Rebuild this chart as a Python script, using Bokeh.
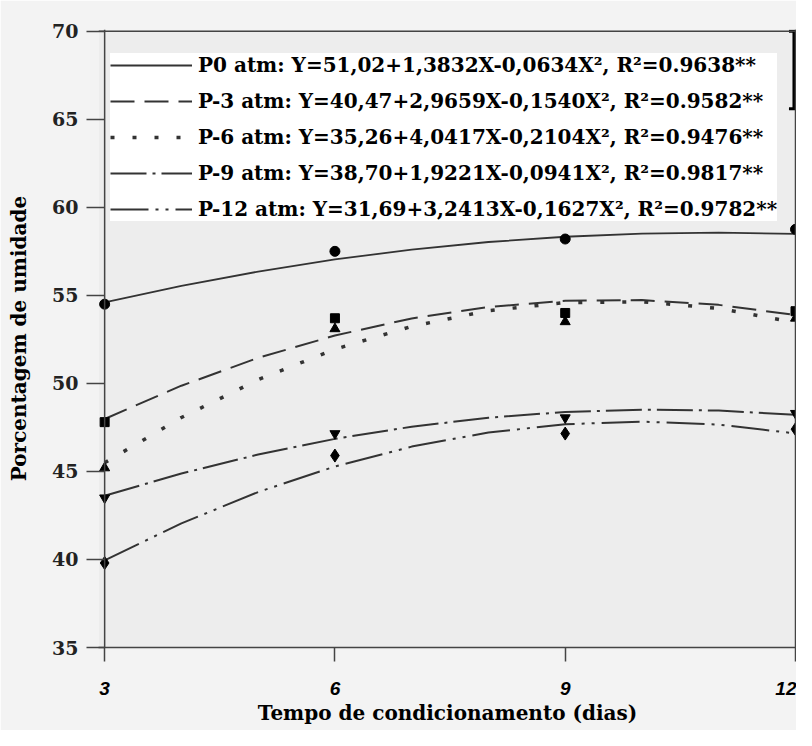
from bokeh.plotting import figure
from bokeh.models import Legend, LegendItem, FixedTicker, Span, Range1d
from bokeh.embed import file_html
from bokeh.resources import INLINE

# ---- data ----
days = [3, 6, 9, 12]
x_tick_labels = {3: "3", 6: "6", 9: "9", 12: "12"}
y_ticks = [35, 40, 45, 50, 55, 60, 65, 70]

obs_p0 = [54.5, 57.5, 58.2, 58.75]
obs_p3 = [47.8, 53.7, 54.0, 54.1]
obs_p6 = [45.2, 53.1, 53.5, 53.7]
obs_p9 = [43.5, 47.15, 48.05, 48.3]
obs_p12 = [39.8, 45.9, 47.15, 47.4]

curve_days = [3, 4, 5, 6, 7, 8, 9, 10, 11, 12]
fit_p0 = [54.60, 55.54, 56.35, 57.04, 57.60, 58.03, 58.33, 58.51, 58.56, 58.49]
fit_p3 = [47.98, 49.87, 51.45, 52.72, 53.69, 54.34, 54.69, 54.73, 54.46, 53.88]
fit_p6 = [45.49, 48.06, 50.21, 51.94, 53.24, 54.13, 54.59, 54.64, 54.26, 53.46]
fit_p9 = [43.62, 44.88, 45.96, 46.85, 47.54, 48.05, 48.38, 48.51, 48.46, 48.21]
fit_p12 = [39.95, 42.05, 43.83, 45.28, 46.41, 47.21, 47.68, 47.83, 47.66, 47.16]

legend_labels = [
    "P0 atm: Y=51,02+1,3832X-0,0634X\u00b2, R\u00b2=0.9638**",
    "P-3 atm: Y=40,47+2,9659X-0,1540X\u00b2, R\u00b2=0.9582**",
    "P-6 atm: Y=35,26+4,0417X-0,2104X\u00b2, R\u00b2=0.9476**",
    "P-9 atm: Y=38,70+1,9221X-0,0941X\u00b2, R\u00b2=0.9817**",
    "P-12 atm: Y=31,69+3,2413X-0,1627X\u00b2, R\u00b2=0.9782**",
]

bar_day = [11.98]
bar_low = [65.6]
bar_high = [70.0]

SERIF = "DejaVu Serif"

p = figure(width=796, height=730, output_backend="svg", toolbar_location=None,
           x_range=Range1d(2.92, 12.013), y_range=Range1d(35, 70.1),
           min_border_left=98, min_border_right=0, min_border_top=29, min_border_bottom=83,
           background_fill_color="#ededed", border_fill_color="#f3f3f3")
p.outline_line_color = None
p.xgrid.visible = False
p.ygrid.visible = False

# axes
p.xaxis.ticker = FixedTicker(ticks=days)
p.xaxis.major_label_overrides = x_tick_labels
p.xaxis.minor_tick_line_color = None
p.xaxis.major_tick_out = 14
p.xaxis.major_tick_in = 0
p.xaxis.major_label_standoff = 20
p.xaxis.major_label_text_font = "Liberation Sans"
p.xaxis.major_label_text_font_style = "bold italic"
p.xaxis.major_label_text_font_size = "19px"
p.xaxis.major_label_text_color = "black"
p.xaxis.axis_line_color = "#444444"
p.xaxis.axis_line_width = 1.5
p.xaxis.major_tick_line_color = "#444444"
p.xaxis.major_tick_line_width = 1.5
p.xaxis.axis_label = "Tempo de condicionamento (dias)"
p.xaxis.axis_label_text_font = SERIF
p.xaxis.axis_label_text_font_style = "bold"
p.xaxis.axis_label_text_font_size = "20px"
p.xaxis.axis_label_text_color = "black"
p.xaxis.axis_label_standoff = 3

p.yaxis.ticker = FixedTicker(ticks=y_ticks)
p.yaxis.minor_tick_line_color = None
p.yaxis.major_tick_out = 12
p.yaxis.major_tick_in = 6
p.yaxis.major_label_standoff = 8
p.yaxis.major_label_text_font = SERIF
p.yaxis.major_label_text_font_style = "bold"
p.yaxis.major_label_text_font_size = "19px"
p.yaxis.major_label_text_color = "#222222"
p.yaxis.axis_line_color = None
p.yaxis.major_tick_line_color = "#444444"
p.yaxis.major_tick_line_width = 1.5
p.yaxis.axis_label = "Porcentagem de umidade"
p.yaxis.axis_label_text_font = SERIF
p.yaxis.axis_label_text_font_style = "bold"
p.yaxis.axis_label_text_font_size = "20px"
p.yaxis.axis_label_text_color = "black"
p.yaxis.axis_label_standoff = 18

# frame lines
p.add_layout(Span(location=days[0], dimension="height", line_color="#444444", line_width=1.5))
p.add_layout(Span(location=days[-1], dimension="height", line_color="#444444", line_width=1.5))
p.add_layout(Span(location=y_ticks[-1], dimension="width", line_color="#444444", line_width=1.5))

LC = "#333333"
r0 = p.line(curve_days, fit_p0, line_color=LC, line_width=1.8)
r3 = p.line(curve_days, fit_p3, line_color=LC, line_width=2, line_dash="24 10")
r6 = p.line(curve_days, fit_p6, line_color=LC, line_width=3.5, line_dash="4 18")
r9 = p.line(curve_days, fit_p9, line_color=LC, line_width=2, line_dash="36 6 3 6")
r12 = p.line(curve_days, fit_p12, line_color=LC, line_width=2, line_dash="38 7 3 7 3 7")

p.scatter(days, obs_p0, marker="circle", size=10, color="black")
p.scatter(days, obs_p3, marker="square", size=9, color="black")
p.scatter(days, obs_p6, marker="triangle", size=10, color="black")
p.scatter(days, obs_p9, marker="inverted_triangle", size=10, color="black")
p.scatter(days, obs_p12, marker="diamond", size=13, color="black")

# bar at top right
p.segment(x0=bar_day, y0=bar_low, x1=bar_day, y1=bar_high, line_color="black", line_width=3)
p.scatter(bar_day, bar_low, marker="dash", size=10, line_color="black", line_width=3)
p.scatter(bar_day, bar_high, marker="dash", size=10, line_color="black", line_width=3)

items = [LegendItem(label=lab, renderers=[r]) for lab, r in
         zip(legend_labels, [r0, r3, r6, r9, r12])]
legend = Legend(items=items, location=(12, 426),
                label_text_font=SERIF, label_text_font_style="bold",
                label_text_font_size="20px", label_text_color="black",
                glyph_width=82, glyph_height=24, label_height=24,
                label_standoff=6, spacing=12, padding=8, margin=0,
                background_fill_color="white", background_fill_alpha=1.0,
                border_line_color=None)
p.add_layout(legend, "center")

with open("out.html", "w") as f:
    f.write(file_html(p, INLINE))
